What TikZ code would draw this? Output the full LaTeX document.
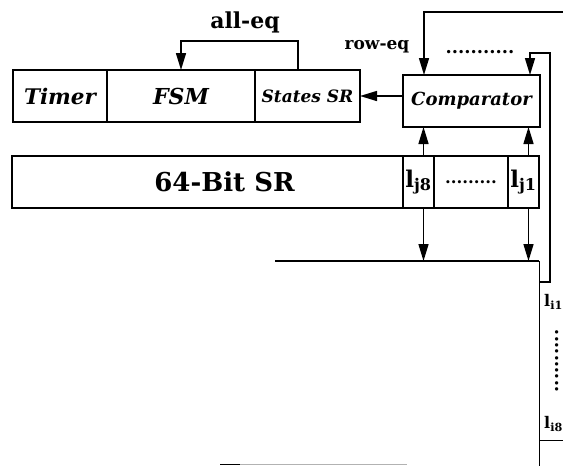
\documentclass[tikz,border=0pt]{standalone}
\usepackage{fontspec}
\setmainfont{DejaVu Serif}
\usepackage{tikz}
\usetikzlibrary{arrows.meta, positioning}

\begin{document}
\begin{tikzpicture}[x=1pt, y=-1pt,
  box/.style={draw, line width=2pt, minimum height=52pt, inner sep=0pt, outer sep=0pt, font=\fontsize{22}{24}\selectfont\bfseries\itshape},
  cell/.style={draw, line width=2pt, minimum height=52pt, inner sep=0pt, outer sep=0pt, font=\fontsize{23}{25}\selectfont\bfseries},
  lbl/.style={font=\fontsize{22}{24}\selectfont\bfseries},
  dots/.style={inner sep=0pt, font=\fontsize{18}{18}\selectfont\bfseries},
  arrow/.style={-{Triangle[length=17pt, width=10pt]}, line width=1.5pt},
  node distance=0pt
]
  \useasboundingbox (0,0) rectangle (563,466);

  \node[box, minimum width=94pt, font=\fontsize{21.5}{24}\selectfont\bfseries\itshape] (timer) at (60,96) {Timer};
  \node[box, minimum width=148pt, right=of timer] (fsm) {FSM};
  \node[box, minimum width=105pt, right=of fsm, font=\fontsize{17}{19}\selectfont\bfseries\itshape] (states) {States SR};
  \node[box, minimum width=137pt, font=\fontsize{18}{20}\selectfont\bfseries\itshape] (comp) at (471.5,101) {Comparator};

  \node[cell, minimum width=391pt, font=\fontsize{26}{28}\selectfont\bfseries] (sr) at (207.5,182) {\hspace*{34pt}64-Bit SR};
  \node[cell, minimum width=31pt, right=of sr] (lj8) {l\textsubscript{j8}};
  \node[cell, minimum width=74pt, right=of lj8] (ljdots) {\fontsize{16.5}{17}\selectfont .........};
  \node[cell, minimum width=31pt, right=of ljdots] (lj1) {l\textsubscript{j1}};

  \node[lbl] (alleq) at (245,22) {all-eq};
  \node[lbl, font=\fontsize{17}{19}\selectfont\bfseries] (roweq) at (377,47) {row-eq};
  \node[dots] (topdots) at (480,52) {...........};
  \node[dots, rotate=90] (idots) at (557,361) {..........};
  \node[lbl, anchor=west, inner sep=0pt, font=\fontsize{16}{18}\selectfont\bfseries] (li1) at (544,302) {l\textsubscript{i1}};
  \node[lbl, anchor=west, inner sep=0pt, font=\fontsize{16}{18}\selectfont\bfseries] (li8) at (544,424) {l\textsubscript{i8}};

  \coordinate (arrtl) at (275,261);
  \coordinate (arrtr) at (539,261);
  \coordinate (arrbr) at (539,470);
  \coordinate (li1in) at (539,282);
  \coordinate (rowin) at (530,53);
  \coordinate (toprow) at (566,12);
  \coordinate (nexttl) at (539,440);
  \coordinate (nexttr) at (566,440);

  \draw[line width=2.2pt] (arrtl) -- (arrtr);
  \draw[line width=1pt] (arrtr) -- (arrbr);
  \draw[line width=1pt] (nexttl) -- (nexttr);

  \draw[arrow] ([xshift=-9.5pt]states.north) -- ++(0,-29) -| (fsm.north);
  \draw[arrow] (states.east -| comp.west) -- (states.east);
  \draw[arrow] (toprow) -| ([xshift=21pt]comp.north west);
  \draw[arrow] (li1in) -- ++(11,0) |- (rowin) -- (rowin |- comp.north);
  \draw[arrow] ([xshift=5pt]lj8.north) -- ([xshift=5pt]lj8.north |- comp.south);
  \draw[arrow] ([xshift=5pt]lj1.north) -- ([xshift=5pt]lj1.north |- comp.south);
  \draw[arrow] ([xshift=5pt]lj8.south) -- ([xshift=5pt]lj8.south |- arrtl);
  \draw[arrow] ([xshift=5pt]lj1.south) -- ([xshift=5pt]lj1.south |- arrtl);

  \draw[gray!60, line width=0.8pt] (220,464.5) -- (407,464.5);
  \draw[line width=1.2pt] (220,464.5) -- (240,464.5);
\end{tikzpicture}
\end{document}
